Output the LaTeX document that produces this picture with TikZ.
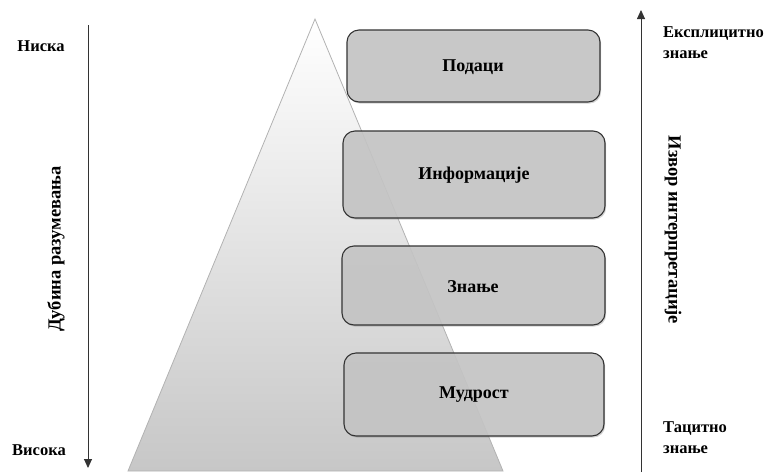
\documentclass[tikz,border=0pt]{standalone}
\usepackage{fontspec}
\setmainfont{Liberation Serif}
\usetikzlibrary{shadows,arrows.meta}
\begin{document}
\begin{tikzpicture}[x=1pt,y=-1pt,
  level/.style={draw=black!80, line width=1.1pt, rounded corners=12pt,
    fill=black!22, fill opacity=0.88,
    drop shadow={opacity=0.35, shadow xshift=1.2pt, shadow yshift=-1.6pt}},
  levelname/.style={font=\bfseries\fontsize{18}{20}\selectfont},
  side/.style={font=\bfseries\fontsize{16.5}{21}\selectfont, inner sep=0pt},
  sideaxis/.style={font=\bfseries\fontsize{18.5}{21}\selectfont, inner sep=0pt},
  axis/.style={line width=0.9pt, draw=black!80, -{Triangle[width=8pt,length=9pt]}}]
  \useasboundingbox (0,0) rectangle (769,475);

  % pyramid
  \shade[top color=white, bottom color=black!22, draw=black!30, line width=0.8pt]
    (315,19) -- (503,471) -- (128,471) -- cycle;

  % levels
  \path[level] (347,30) rectangle (600,102);
  \node[levelname] (d) at (473,67) {Подаци};
  \path[level] (343,131) rectangle (605,218);
  \node[levelname] (i) at (474,175) {Информације};
  \path[level] (342,246) rectangle (605,325);
  \node[levelname] (z) at (473,287) {Знање};
  \path[level] (344,353) rectangle (604,436);
  \node[levelname] (m) at (474,395) {Мудрост};

  % depth axis
  \coordinate (l0) at (88,25);
  \coordinate (l1) at (88,468);
  \draw[axis] (l0) -- (l1);
  \node[side] (low) at (41,46) {Ниска};
  \node[side] (high) at (39,450) {Висока};
  \node[sideaxis, rotate=90] (depth) at (56,249) {Дубина разумевања};

  % interpretation axis
  \coordinate (r0) at (641,472);
  \coordinate (r1) at (641,10);
  \draw[axis] (r0) -- (r1);
  \node[side, anchor=west, align=left] (expl) at (663,43) {Експлицитно\\знање};
  \node[side, anchor=west, align=left] (tac) at (663,438) {Тацитно\\знање};
  \node[sideaxis, rotate=-90] (src) at (673,230) {Извор интерпретације};
\end{tikzpicture}
\end{document}
